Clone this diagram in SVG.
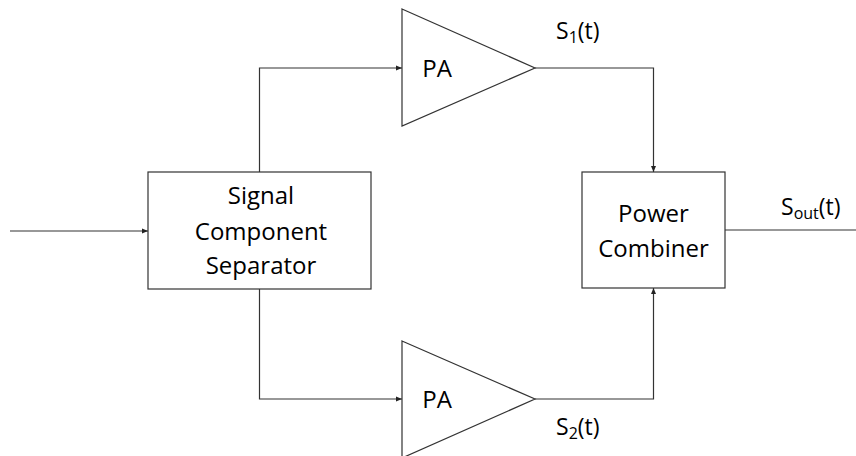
<svg xmlns="http://www.w3.org/2000/svg" width="856" height="456" viewBox="0 0 856 456">
<defs>
<marker id="arr" viewBox="0 0 6 6" refX="6" refY="3" markerWidth="6" markerHeight="6" markerUnits="userSpaceOnUse" orient="auto">
<path d="M0,0.5 L6,3 L0,5.5 Z" fill="#222"/>
</marker>
</defs>
<style>
.box{fill:#fff;stroke:#333;stroke-width:1.2}
.ln{fill:none;stroke:#333;stroke-width:1.2}
.t{font-family:"Open Sans","Liberation Sans",sans-serif;font-size:24px;fill:#000;text-anchor:middle}
.s{font-family:"Open Sans","Liberation Sans",sans-serif;font-size:23px;fill:#000}
.sub{font-size:16px}
</style>
<rect width="856" height="456" fill="#fff"/>
<g id="connectors">
<line class="ln" x1="10" y1="231" x2="148" y2="231" marker-end="url(#arr)"/>
<polyline class="ln" points="259.5,172 259.5,68 402,68" marker-end="url(#arr)"/>
<polyline class="ln" points="259.5,289 259.5,399 402,399" marker-end="url(#arr)"/>
<polyline class="ln" points="535,68 653.5,68 653.5,172" marker-end="url(#arr)"/>
<polyline class="ln" points="535,399 653.5,399 653.5,288" marker-end="url(#arr)"/>
<line class="ln" x1="725" y1="230" x2="856" y2="230"/>
</g>
<g id="separator">
<rect class="box" x="148" y="172" width="223" height="117"/>
<text class="t" x="261" y="204">Signal</text>
<text class="t" x="261" y="240">Component</text>
<text class="t" x="261" y="274">Separator</text>
</g>
<g id="pa1">
<polygon class="box" points="402,9 535,68 402,126"/>
<text class="t" x="437" y="77">PA</text>
</g>
<g id="pa2">
<polygon class="box" points="402,341 535,399 402,458"/>
<text class="t" x="437" y="408">PA</text>
</g>
<g id="combiner">
<rect class="box" x="582" y="172" width="143" height="116"/>
<text class="t" x="653.5" y="222">Power</text>
<text class="t" x="653.5" y="257">Combiner</text>
</g>
<g id="labels">
<text class="s" x="556" y="39">S<tspan class="sub" dy="4">1</tspan><tspan dy="-4">(t)</tspan></text>
<text class="s" x="556" y="435">S<tspan class="sub" dy="4">2</tspan><tspan dy="-4">(t)</tspan></text>
<text class="s" x="781" y="215">S<tspan class="sub" dy="4">out</tspan><tspan dy="-4">(t)</tspan></text>
</g>
</svg>
